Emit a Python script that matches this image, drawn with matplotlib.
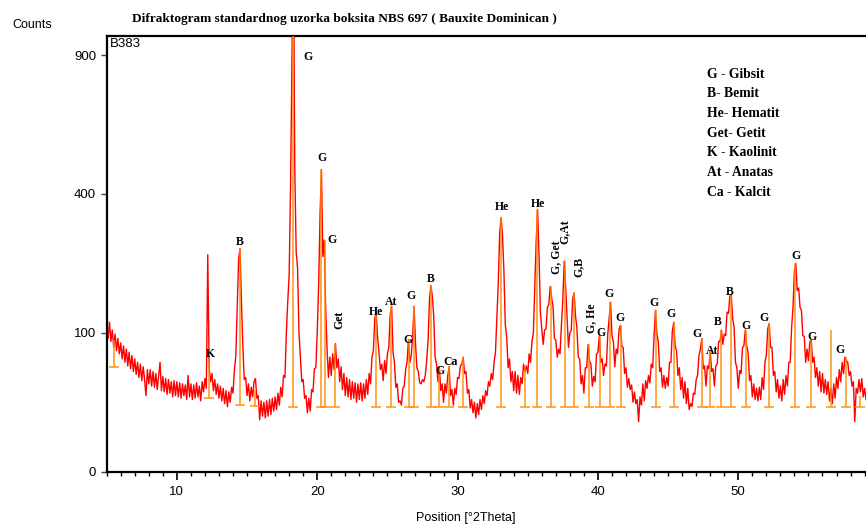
import numpy as np
import matplotlib.pyplot as plt
from matplotlib.ticker import MultipleLocator, FixedLocator

# scan: 2Theta from 5.0 to 59.1 in 0.1 steps, counts
two_theta = np.round(np.arange(5.0, 59.15, 0.1), 1)
counts = [
    110, 92, 116, 88, 104, 80, 98, 76, 92, 72,         # 5
    86, 66, 82, 62, 78, 58, 74, 55, 70, 52,            # 6
    66, 49, 62, 46, 60, 43, 57, 44, 30, 54,            # 7
    40, 54, 38, 52, 37, 50, 35, 48, 62, 34,            # 8
    47, 33, 45, 31, 44, 32, 42, 29, 43, 30,            # 9
    42, 29, 41, 28, 40, 30, 39, 27, 48, 29,            # 10
    40, 27, 39, 28, 41, 29, 38, 26, 42, 33,            # 11
    45, 36, 244, 56, 42, 50, 34, 44, 31, 40,           # 12
    28, 38, 26, 36, 24, 34, 22, 33, 25, 37,            # 13
    32, 54, 70, 140, 235, 258, 150, 82, 44, 46,        # 14
    30, 40, 26, 37, 29, 42, 45, 28, 30, 14,            # 15
    26, 16, 25, 15, 26, 16, 27, 17, 28, 19,            # 16
    29, 20, 32, 23, 37, 29, 48, 46, 100, 150,          # 17
    200, 420, 900, 1500, 480, 250, 215, 100, 68, 42,   # 18
    44, 28, 30, 18, 28, 19, 35, 33, 55, 56,            # 19
    100, 180, 340, 473, 240, 278, 140, 78, 46, 68,     # 20
    48, 72, 54, 85, 56, 66, 42, 57, 35, 50,            # 21
    30, 46, 29, 44, 27, 42, 28, 41, 25, 40,            # 22
    27, 41, 26, 40, 28, 44, 31, 50, 40, 68,            # 23
    76, 122, 130, 94, 74, 54, 60, 43, 64, 50,          # 24
    72, 80, 128, 142, 74, 62, 37, 40, 25, 26,          # 25
    23, 36, 38, 54, 62, 90, 62, 70, 95, 142,           # 26
    86, 56, 52, 41, 40, 44, 42, 48, 64, 90,            # 27
    155, 180, 160, 126, 68, 60, 42, 57, 34, 40,        # 28
    25, 40, 32, 48, 57, 30, 35, 23, 36, 31,            # 29
    46, 45, 58, 60, 68, 50, 52, 32, 35, 21,            # 30
    27, 18, 25, 15, 24, 17, 27, 20, 30, 24,            # 31
    34, 30, 42, 38, 50, 44, 62, 74, 125, 185,          # 32
    295, 335, 290, 210, 112, 94, 56, 66, 42, 52,       # 33
    34, 52, 32, 48, 31, 46, 40, 60, 52, 58,            # 34
    50, 72, 62, 88, 100, 176, 275, 356, 245, 132,      # 35
    105, 84, 104, 106, 140, 145, 178, 156, 142, 92,    # 36
    90, 68, 78, 72, 112, 155, 230, 178, 125, 80,       # 37
    100, 104, 155, 166, 126, 108, 68, 66, 40, 48,      # 38
    32, 56, 56, 84, 64, 60, 38, 47, 42, 72,            # 39
    74, 96, 62, 66, 48, 60, 58, 98, 122, 149,          # 40
    96, 88, 57, 78, 72, 104, 111, 82, 80, 50,          # 41
    56, 37, 45, 35, 39, 25, 33, 24, 27, 13,            # 42
    29, 23, 40, 26, 43, 36, 48, 41, 60, 56,            # 43
    95, 135, 98, 88, 52, 56, 37, 48, 36, 46,           # 44
    38, 62, 62, 102, 116, 82, 76, 48, 56, 35,          # 45
    46, 28, 42, 24, 36, 20, 24, 22, 32, 31,            # 46
    44, 48, 70, 78, 92, 55, 58, 38, 58, 55,            # 47
    76, 52, 55, 38, 58, 60, 88, 88, 104, 84,           # 48
    98, 96, 132, 130, 160, 163, 122, 108, 62, 56,      # 49
    36, 53, 50, 80, 82, 104, 82, 74, 43, 48,           # 50
    29, 40, 27, 36, 26, 37, 27, 46, 35, 62,            # 51
    70, 106, 114, 80, 80, 48, 52, 33, 44, 28,          # 52
    38, 26, 44, 31, 48, 38, 62, 62, 108, 140,          # 53
    210, 225, 170, 175, 140, 135, 96, 95, 62, 78,      # 54
    64, 88, 90, 62, 68, 46, 56, 38, 52, 33,            # 55
    50, 32, 44, 31, 42, 26, 36, 24, 40, 28,            # 56
    46, 36, 54, 42, 62, 50, 68, 64, 62, 48,            # 57
    52, 38, 42, 13, 36, 32, 44, 33, 45, 29,            # 58
    36, 27,                                            # 59
]

# reference pattern sticks
stick_pos = [5.49, 12.28, 14.47, 15.59, 18.30, 20.29, 20.53, 21.29, 24.16, 25.28,
             26.53, 26.89, 28.13, 28.67, 29.39, 30.38, 33.12, 34.78, 35.69, 36.64,
             37.63, 38.27, 39.34, 40.12, 40.89, 41.63, 44.12, 45.42, 47.38, 48.02,
             48.80, 49.51, 50.54, 52.17, 54.07, 55.17, 56.64, 57.71, 58.70]
stick_top = [90, 64, 258, 35, 1500, 473, 278, 85, 130, 142,
             90, 142, 180, 57, 58, 68, 335, 57, 356, 178,
             230, 166, 84, 96, 149, 111, 135, 116, 92, 76,
             104, 163, 104, 114, 225, 90, 104, 68, 30]
stick_base = [57, 28, 23, 22.5] + [21.6] * 35

# phase labels: text, x, y, rotation
labels = [
    ("K", 12.42, 72, 0), ("B", 14.47, 273, 0), ("G", 19.31, 891, 0),
    ("G", 20.36, 509, 0), ("G", 21.05, 278, 0), ("Get", 21.59, 119, 90),
    ("He", 24.21, 132, 0), ("At", 25.28, 150, 0), ("G", 26.47, 90, 0),
    ("G", 26.71, 160, 0), ("B", 28.06, 192, 0), ("G", 28.77, 53, 0),
    ("Ca", 29.51, 62, 0), ("He", 33.17, 364, 0), ("He", 35.76, 371, 0),
    ("G, Get", 36.99, 239, 90), ("G,At", 37.63, 298, 90), ("G,B", 38.63, 217, 90),
    ("G, He", 39.49, 122, 90), ("G", 40.25, 100, 0), ("G", 40.77, 164, 0),
    ("G", 41.60, 122, 0), ("G", 44.00, 147, 0), ("G", 45.19, 129, 0),
    ("G", 47.09, 98, 0), ("At", 48.16, 76, 0), ("B", 48.56, 116, 0),
    ("B", 49.42, 167, 0), ("G", 50.53, 110, 0), ("G", 51.84, 122, 0),
    ("G", 54.08, 241, 0), ("G", 55.22, 94, 0), ("G", 57.28, 77, 0),
]

legend_lines = ["G - Gibsit", "B- Bemit", "He- Hematit", "Get- Getit",
                "K - Kaolinit", "At - Anatas", "Ca - Kalcit"]

sans = ["Liberation Sans", "DejaVu Sans"]
serif = ["Liberation Serif", "DejaVu Serif"]

fig = plt.figure(figsize=(8.66, 5.27), dpi=100)
ax = fig.add_axes([106.7 / 866, 1 - 471.7 / 527, 1 - 106.7 / 866, (471.7 - 36) / 527])

# counts axis is square-root scaled
fwd = lambda v: np.sqrt(np.maximum(v, 0))
inv = lambda v: np.square(v)
ax.set_yscale("function", functions=(fwd, inv))

ax.plot(two_theta, counts, color="#ff0000", lw=1.0, zorder=2)
ax.vlines(stick_pos, stick_base, stick_top, color="#ff8c00", lw=1.2, alpha=0.85, zorder=3)
ax.plot(stick_pos, stick_base, ls="none", marker="_", ms=7, mew=1.2,
        color="#ff8c00", alpha=0.85, zorder=3)

for txt, x, y, rot in labels:
    ax.text(x, y, txt, rotation=rot, ha="center", va="center", fontsize=8.5,
            fontweight="bold", family=serif, zorder=4)

ax.set_xlim(5, 59.1)
ax.set_ylim(0, 984)
ax.yaxis.set_major_locator(FixedLocator([0, 100, 400, 900]))
ax.xaxis.set_major_locator(MultipleLocator(10))
ax.xaxis.set_minor_locator(MultipleLocator(1))
ax.tick_params(axis="y", direction="out", length=4.5, width=1, color="#444444",
               labelsize=9.5, pad=3)
ax.tick_params(axis="x", which="major", direction="out", length=6, width=1.2,
               labelsize=9.5, pad=4)
ax.tick_params(axis="x", which="minor", direction="out", length=3, width=1)
for lab in ax.get_xticklabels() + ax.get_yticklabels():
    lab.set_family(sans)
for side in ["left", "top", "bottom"]:
    ax.spines[side].set_linewidth(1.6)
ax.spines["right"].set_visible(False)

ax.text(0.004, 0.995, "B383", transform=ax.transAxes, ha="left", va="top",
        fontsize=9.5, family=sans)

fig.text(32 / 866, 1 - 25 / 527, "Counts", ha="center", va="center", fontsize=9, family=sans)
fig.text(466 / 866, 1 - 518 / 527, "Position [°2Theta]", ha="center", va="center",
         fontsize=9, family=sans)
fig.text(132 / 866, 1 - 19 / 527,
         "Difraktogram standardnog uzorka boksita NBS 697 ( Bauxite Dominican )",
         ha="left", va="center", fontsize=9.6, fontweight="bold", family=serif)

for i, line in enumerate(legend_lines):
    fig.text(707 / 866, 1 - (74 + 19.7 * i) / 527, line, ha="left", va="center",
             fontsize=9.8, fontweight="bold", family=serif)

fig.savefig("out.png", dpi=100)
